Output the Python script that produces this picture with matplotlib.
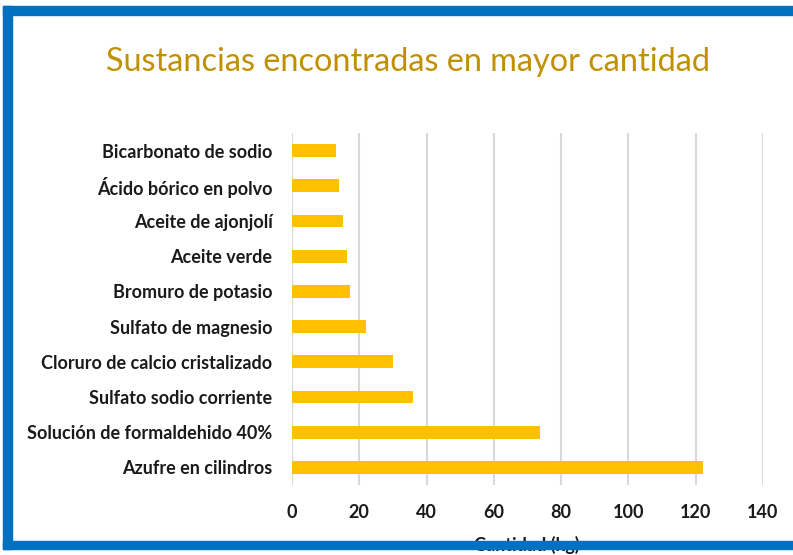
import matplotlib
matplotlib.use("Agg")
import matplotlib.pyplot as plt
from matplotlib.patches import Rectangle

categories = [
    "Azufre en cilindros",
    "Solución de formaldehido 40%",
    "Sulfato sodio corriente",
    "Cloruro de calcio cristalizado",
    "Sulfato de magnesio",
    "Bromuro de potasio",
    "Aceite verde",
    "Aceite de ajonjolí",
    "Ácido bórico en polvo",
    "Bicarbonato de sodio",
]
values = [122.2, 73.7, 36, 30, 22, 17.2, 16.4, 15.2, 14, 13]
x_ticks = [0, 20, 40, 60, 80, 100, 120, 140]
title = "Sustancias encontradas en mayor cantidad"
xlabel = "Cantidad (kg)"

W, H = 793, 555
fig = plt.figure(figsize=(W / 100, H / 100), dpi=100)
fig.patch.set_facecolor("white")

ax = fig.add_axes([292 / W, 1 - 485 / H, (763 - 292) / W, (485 - 133) / H])
ypos = list(range(len(categories)))
ax.barh(ypos, values, height=0.36, color="#FFC000", zorder=3)
ax.set_xlim(0, 140)
ax.set_ylim(-0.5, len(categories) - 0.5)
ax.set_xticks(x_ticks)
ax.set_xticklabels([str(t) for t in x_ticks])
ax.set_yticks(ypos)
ax.set_yticklabels(categories)
for s in ax.spines.values():
    s.set_visible(False)
ax.grid(axis="x", color="#D9D9D9", linewidth=1.5, zorder=0)
ax.tick_params(axis="both", length=0, labelsize=13, labelcolor="#1a1a1a")
ax.tick_params(axis="x", pad=14)
ax.tick_params(axis="y", pad=14)
for lab in ax.get_xticklabels() + ax.get_yticklabels():
    lab.set_fontfamily("Lato")
    lab.set_fontweight("bold")

fig.text(408 / W, 1 - 62 / H, title, ha="center", va="center",
         fontsize=23.3, color="#C09000", fontfamily="Lato")
fig.text(527 / W, 1 - 545 / H, xlabel, ha="center", va="center",
         fontsize=13, fontweight="bold", color="#1a1a1a", fontfamily="Lato", zorder=3)

blue = "#0070C0"
def rect(x0, y0, x1, y1):
    fig.patches.append(Rectangle((x0 / W, 1 - y1 / H), (x1 - x0) / W, (y1 - y0) / H,
                                 transform=fig.transFigure, color=blue, zorder=10))
rect(3, 6, W, 15)
rect(3, 6, 12, 549)
rect(3, 541, W, 549)

fig.savefig("out.png", dpi=100)
